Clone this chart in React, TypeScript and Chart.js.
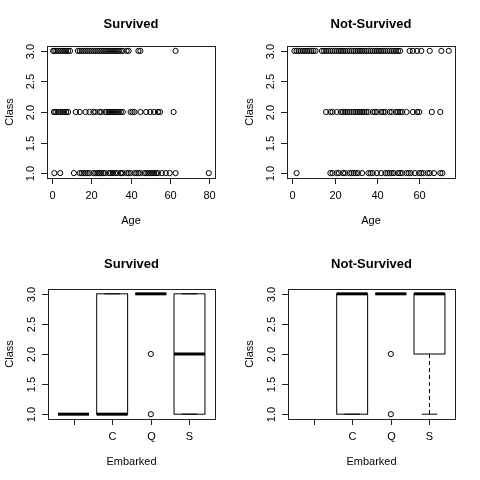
import React, { useEffect, useRef } from "react";
import { Chart, registerables } from "chart.js";
Chart.register(...registerables);

// Survived ages by class
const survC1 = [1, 4, 11, 14, 15, 16, 17, 18, 19, 21, 22, 23, 24, 24, 25, 26, 27, 29, 30, 31, 32, 33, 35, 35, 36, 38, 39, 40, 42, 43, 44, 45, 47, 48, 49, 50, 51, 52, 53, 54, 56, 58, 60, 63, 80];
const survC2 = [0.8, 1, 2, 3, 4, 5, 6, 7, 8, 12, 14, 17, 19, 21, 22, 24, 25, 27, 28, 29, 30, 31, 32, 33, 34, 35, 36, 40, 41, 42, 45, 48, 50, 52, 54, 55, 62];
const survC3 = [0.4, 1, 2, 3, 4, 5, 6, 7, 8, 9, 13, 14, 15, 16, 17, 18, 19, 20, 21, 22, 23, 24, 25, 26, 27, 28, 29, 30, 31, 32, 33, 34, 35, 36, 38, 39, 44, 45, 63];
// Not-survived ages by class
const deadC1 = [2, 18, 19, 21, 22, 24, 25, 27, 28, 29, 30, 31, 33, 36, 37, 38, 40, 42, 44, 45, 46, 47, 48, 50, 51, 52, 54, 55, 56, 58, 60, 61, 62, 64, 65, 67, 70, 71];
const deadC2 = [16, 18, 19, 21, 23, 24, 25, 26, 27, 28, 29, 30, 31, 32, 33, 34, 35, 36, 38, 39, 40, 42, 43, 44, 46, 47, 49, 50, 51, 52, 54, 57, 59, 60, 66, 70];
const deadC3 = [1, 2, 3, 4, 5, 6, 7, 8, 9, 10, 11, 14, 15, 16, 17, 18, 19, 20, 21, 22, 23, 24, 25, 26, 27, 28, 29, 30, 31, 32, 33, 34, 35, 36, 37, 38, 39, 40, 41, 42, 43, 44, 45, 46, 47, 48, 49, 50, 51, 55.5, 57, 59, 61, 65, 70.5, 74];

const embarkedLabels = ["", "C", "Q", "S"];
// [lowWhisker, q1, median, q3, highWhisker] or null
const survBoxes: (number[] | null)[] = [[1, 1, 1, 1, 1], [1, 1, 1, 3, 3], [3, 3, 3, 3, 3], [1, 1, 2, 3, 3]];
const survOutliers: number[][] = [[], [], [2, 1], []];
const deadBoxes: (number[] | null)[] = [null, [1, 1, 3, 3, 3], [3, 3, 3, 3, 3], [1, 2, 3, 3, 3]];
const deadOutliers: number[][] = [[], [], [2, 1], []];

const ageTicksS = [0, 20, 40, 60, 80];
const ageTicksD = [0, 20, 40, 60];
const classTicks = [1.0, 1.5, 2.0, 2.5, 3.0];

const FONT = "'Liberation Sans', Arial, sans-serif";

function frame(ctx: CanvasRenderingContext2D, chart: any, title: string, xLabel: string, xTicks: number[], xTickLabels: string[]) {
  const a = chart.chartArea;
  const xs = chart.scales.x, ys = chart.scales.y;
  ctx.save();
  ctx.strokeStyle = "#222";
  ctx.lineWidth = 1;
  ctx.strokeRect(a.left + 0.5, a.top + 0.5, a.right - a.left, a.bottom - a.top);
  ctx.fillStyle = "#000";
  ctx.font = `bold 13px ${FONT}`;
  ctx.textAlign = "center";
  ctx.textBaseline = "middle";
  const cx = (a.left + a.right) / 2;
  ctx.fillText(title, cx, 24);
  ctx.font = `11px ${FONT}`;
  ctx.fillText(xLabel, cx, a.bottom + 43);
  // x axis
  const px = xTicks.map((t) => Math.round(xs.getPixelForValue(t)) + 0.5);
  ctx.beginPath();
  ctx.moveTo(px[0], a.bottom + 0.5);
  ctx.lineTo(px[px.length - 1], a.bottom + 0.5);
  px.forEach((p, i) => {
    ctx.moveTo(p, a.bottom);
    ctx.lineTo(p, a.bottom + 6);
  });
  ctx.stroke();
  px.forEach((p, i) => ctx.fillText(xTickLabels[i], p, a.bottom + 18));
  // y axis
  const py = classTicks.map((t) => Math.round(ys.getPixelForValue(t)) + 0.5);
  ctx.beginPath();
  ctx.moveTo(a.left + 0.5, py[0]);
  ctx.lineTo(a.left + 0.5, py[py.length - 1]);
  py.forEach((p) => {
    ctx.moveTo(a.left, p);
    ctx.lineTo(a.left - 6, p);
  });
  ctx.stroke();
  py.forEach((p, i) => {
    ctx.save();
    ctx.translate(a.left - 16, p);
    ctx.rotate(-Math.PI / 2);
    ctx.fillText(classTicks[i].toFixed(1), 0, 0);
    ctx.restore();
  });
  ctx.save();
  ctx.translate(10, (a.top + a.bottom) / 2);
  ctx.rotate(-Math.PI / 2);
  ctx.fillText("Class", 0, 0);
  ctx.restore();
  ctx.restore();
}

function ScatterPanel({ title, c1, c2, c3, xmin, xmax, ticks }: any) {
  const ref = useRef<HTMLCanvasElement>(null);
  useEffect(() => {
    const mk = (arr: number[], cls: number) => arr.map((v) => ({ x: v, y: cls }));
    const chart = new Chart(ref.current!, {
      type: "scatter",
      data: {
        datasets: [
          { data: [...mk(c1, 1), ...mk(c2, 2), ...mk(c3, 3)], borderColor: "#000", backgroundColor: "rgba(0,0,0,0)", borderWidth: 1, pointRadius: 2.6, pointHoverRadius: 2.6 },
        ],
      },
      options: {
        animation: false,
        responsive: false,
        events: [],
        layout: { padding: { left: 47, right: 25, top: 46, bottom: 62 } },
        plugins: { legend: { display: false }, tooltip: { enabled: false } },
        scales: {
          x: { type: "linear", min: xmin, max: xmax, display: false },
          y: { type: "linear", min: 0.92, max: 3.08, display: false },
        },
      },
      plugins: [{ id: "frame", afterDraw: (c: any) => frame(c.ctx, c, title, "Age", ticks, ticks.map(String)) }],
    });
    return () => chart.destroy();
  }, []);
  return <canvas ref={ref} width={240} height={240} style={{ width: 240, height: 240 }} />;
}

function BoxPanel({ title, boxes, outliers }: any) {
  const ref = useRef<HTMLCanvasElement>(null);
  useEffect(() => {
    const outPts: any[] = [];
    outliers.forEach((o: number[], i: number) => o.forEach((v) => outPts.push({ x: i + 1, y: v })));
    const chart = new Chart(ref.current!, {
      type: "scatter",
      data: {
        datasets: [{ data: outPts, borderColor: "#000", backgroundColor: "rgba(0,0,0,0)", borderWidth: 1, pointRadius: 2.6 }],
      },
      options: {
        animation: false,
        responsive: false,
        events: [],
        layout: { padding: { left: 48, right: 25, top: 49, bottom: 61 } },
        plugins: { legend: { display: false }, tooltip: { enabled: false } },
        scales: {
          x: { type: "linear", min: 0.34, max: 4.66, display: false },
          y: { type: "linear", min: 0.92, max: 3.08, display: false },
        },
      },
      plugins: [
        {
          id: "boxes",
          beforeDatasetsDraw: (c: any) => {
            const ctx = c.ctx, xs = c.scales.x, ys = c.scales.y;
            ctx.save();
            ctx.strokeStyle = "#000";
            boxes.forEach((b: number[] | null, i: number) => {
              if (!b) return;
              const x0 = xs.getPixelForValue(i + 1 - 0.4), x1 = xs.getPixelForValue(i + 1 + 0.4);
              const xc = xs.getPixelForValue(i + 1);
              const xs0 = xs.getPixelForValue(i + 1 - 0.2), xs1 = xs.getPixelForValue(i + 1 + 0.2);
              const [lw, q1, md, q3, hw] = b.map((v) => ys.getPixelForValue(v));
              ctx.lineWidth = 1;
              ctx.strokeRect(x0, q3, x1 - x0, q1 - q3);
              ctx.setLineDash([4, 3]);
              ctx.beginPath();
              if (lw !== q1) { ctx.moveTo(xc, q1); ctx.lineTo(xc, lw); }
              if (hw !== q3) { ctx.moveTo(xc, q3); ctx.lineTo(xc, hw); }
              ctx.stroke();
              ctx.setLineDash([]);
              ctx.beginPath();
              ctx.moveTo(xs0, lw); ctx.lineTo(xs1, lw);
              ctx.moveTo(xs0, hw); ctx.lineTo(xs1, hw);
              ctx.stroke();
              ctx.lineWidth = 3;
              ctx.beginPath();
              ctx.moveTo(x0, md); ctx.lineTo(x1, md);
              ctx.stroke();
            });
            ctx.restore();
          },
          afterDraw: (c: any) => frame(c.ctx, c, title, "Embarked", [1, 2, 3, 4], embarkedLabels),
        },
      ],
    });
    return () => chart.destroy();
  }, []);
  return <canvas ref={ref} width={240} height={240} style={{ width: 240, height: 240 }} />;
}

export default function App() {
  return (
    <div style={{ position: "fixed", left: 0, top: 0, width: 480, height: 480, background: "#fff", display: "grid", gridTemplateColumns: "240px 240px", gridTemplateRows: "240px 240px" }}>
      <ScatterPanel title="Survived" c1={survC1} c2={survC2} c3={survC3} xmin={-2.76} xmax={83.18} ticks={ageTicksS} />
      <ScatterPanel title="Not-Survived" c1={deadC1} c2={deadC2} c3={deadC3} xmin={-2.52} xmax={76.94} ticks={ageTicksD} />
      <BoxPanel title="Survived" boxes={survBoxes} outliers={survOutliers} />
      <BoxPanel title="Not-Survived" boxes={deadBoxes} outliers={deadOutliers} />
    </div>
  );
}
